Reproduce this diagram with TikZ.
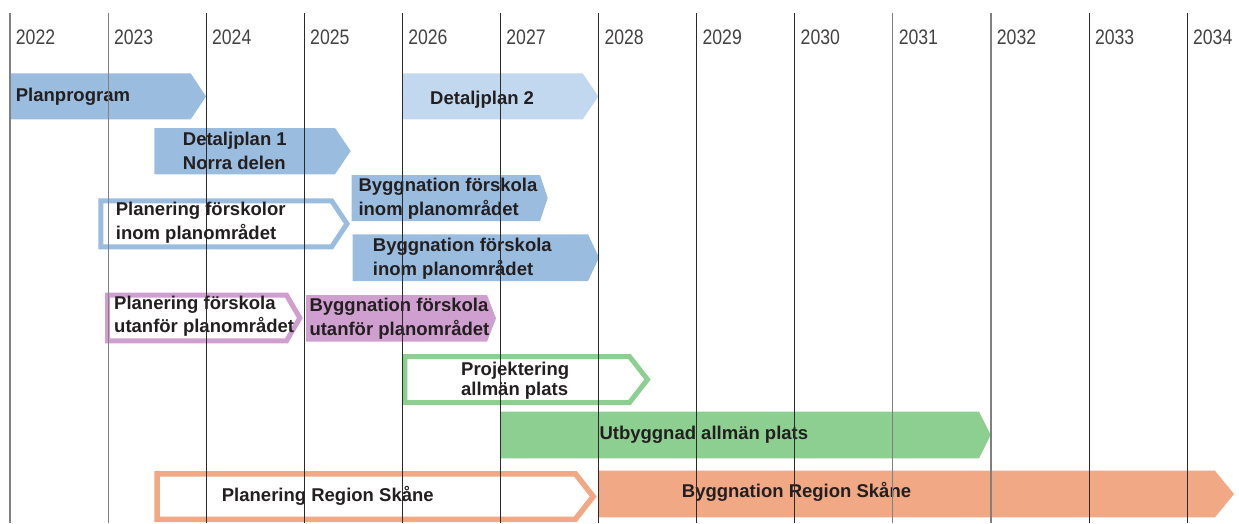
\documentclass[tikz,border=0pt]{standalone}
\usepackage{fontspec}
\setmainfont{Liberation Sans}
\newfontfamily\condfont[FakeStretch=0.84]{Liberation Sans}
\definecolor{barblue}{HTML}{99BCDF}
\definecolor{barlblue}{HTML}{C2D8EE}
\definecolor{barpurple}{HTML}{CFA0CF}
\definecolor{bargreen}{HTML}{8DCF91}
\definecolor{barorange}{HTML}{F0A984}
\definecolor{txt}{HTML}{231F20}
\definecolor{gridgray}{HTML}{808080}
\definecolor{griddark}{HTML}{2A2A2A}
\newcommand\twol[2]{\begin{tabular}[t]{@{}l@{}}#1\\#2\end{tabular}}
\begin{document}
\begin{tikzpicture}[x=1pt,y=-1pt,
  year/.style={font=\condfont\fontsize{21}{25}\selectfont, text=txt!85, anchor=base west, inner sep=0pt},
  lbl/.style={font=\bfseries\fontsize{18.5}{23.5}\selectfont, text=txt, anchor=base west, inner sep=0pt},
  lbltight/.style={font=\bfseries\fontsize{18.5}{19.3}\selectfont, text=txt, anchor=base west, inner sep=0pt},
  gline/.style={line width=1.1pt},
  outl/.style={line width=10pt, line join=miter}
]
\useasboundingbox (0,0) rectangle (1239,523);
\fill[white] (0,0) rectangle (1239,523);

% filled bars
\fill[barblue] (10,73.3) -- (190.7,73.3) -- (206,96.5) -- (190.7,119.3) -- (10,119.3) -- cycle;
\fill[barlblue] (402,73.3) -- (582.7,73.3) -- (598.3,96.5) -- (582.7,119.3) -- (402,119.3) -- cycle;
\fill[barblue] (154.3,128) -- (335,128) -- (350.7,151) -- (335,174.3) -- (154.3,174.3) -- cycle;
\fill[barblue] (351.7,175) -- (540,175) -- (547.7,198) -- (540,221) -- (351.7,221) -- cycle;
\fill[barblue] (352.7,234.3) -- (588,234.3) -- (599,257.6) -- (588,281) -- (352.7,281) -- cycle;
\fill[barpurple] (306,295) -- (487,295) -- (496,318.3) -- (487,341.7) -- (306,341.7) -- cycle;
\fill[bargreen] (500,411.7) -- (979,411.7) -- (990.7,435) -- (979,458.3) -- (500,458.3) -- cycle;
\fill[barorange] (598.3,470.7) -- (1215,470.7) -- (1234,494) -- (1215,517.3) -- (598.3,517.3) -- cycle;

% outlined bars
\begin{scope}
\clip (98.3,198.3) -- (333,198.3) -- (350,223.8) -- (333,249.3) -- (98.3,249.3) -- cycle;
\draw[outl, barblue] (98.3,198.3) -- (333,198.3) -- (350,223.8) -- (333,249.3) -- (98.3,249.3) -- cycle;
\end{scope}
\begin{scope}
\clip (105,292.7) -- (288,292.7) -- (302.7,318) -- (288,343.3) -- (105,343.3) -- cycle;
\draw[outl, barpurple] (105,292.7) -- (288,292.7) -- (302.7,318) -- (288,343.3) -- (105,343.3) -- cycle;
\end{scope}
\begin{scope}
\clip (402.3,354) -- (630.7,354) -- (650.7,379.5) -- (630.7,405) -- (402.3,405) -- cycle;
\draw[outl, bargreen] (402.3,354) -- (630.7,354) -- (650.7,379.5) -- (630.7,405) -- (402.3,405) -- cycle;
\end{scope}
\begin{scope}
\clip (154.3,471) -- (576.7,471) -- (596.7,496.5) -- (576.7,522) -- (154.3,522) -- cycle;
\draw[outl, barorange, line width=11pt] (154.3,471) -- (576.7,471) -- (596.7,496.5) -- (576.7,522) -- (154.3,522) -- cycle;
\end{scope}

% labels
\node[lbl] (planprogram) at (15.7,101) {Planprogram};
\node[lbl] (dp2) at (430,104) {Detaljplan 2};
\node[lbl] (dp1) at (182.7,145.7) {\twol{Detaljplan 1}{Norra delen}};
\node[lbl] (bf1) at (358.3,191.7) {\twol{Byggnation förskola}{inom planområdet}};
\node[lbl] (pf1) at (115.7,215.7) {\twol{Planering förskolor}{inom planområdet}};
\node[lbl] (bf2) at (372.7,251.7) {\twol{Byggnation förskola}{inom planområdet}};
\node[lbl] (pfu) at (114,309.3) {\twol{Planering förskola}{utanför planområdet}};
\node[lbl] (bfu) at (309.3,311.7) {\twol{Byggnation förskola}{utanför planområdet}};
\node[lbltight] (proj) at (461,375.7) {\twol{Projektering}{allmän plats}};
\node[lbl] (utb) at (599.3,439) {Utbyggnad allmän plats};
\node[lbl] (prs) at (221.7,501) {Planering Region Skåne};
\node[lbl] (brs) at (681.7,497.7) {Byggnation Region Skåne};

% year grid
\foreach \k/\yr/\c in {0/2022/gridgray,1/2023/gridgray,2/2024/griddark,3/2025/griddark,4/2026/griddark,5/2027/griddark,6/2028/griddark,7/2029/griddark,8/2030/griddark,9/2031/gridgray,10/2032/gridgray,11/2033/griddark,12/2034/griddark}{
  \coordinate (top\yr) at (10+98.1*\k,13);
  \coordinate (bot\yr) at (10+98.1*\k,523);
  \draw[gline, \c] (top\yr) -- (bot\yr);
  \node[year] (lab\yr) at (15.7+98.1*\k,44.3) {\yr};
}
\end{tikzpicture}
\end{document}
